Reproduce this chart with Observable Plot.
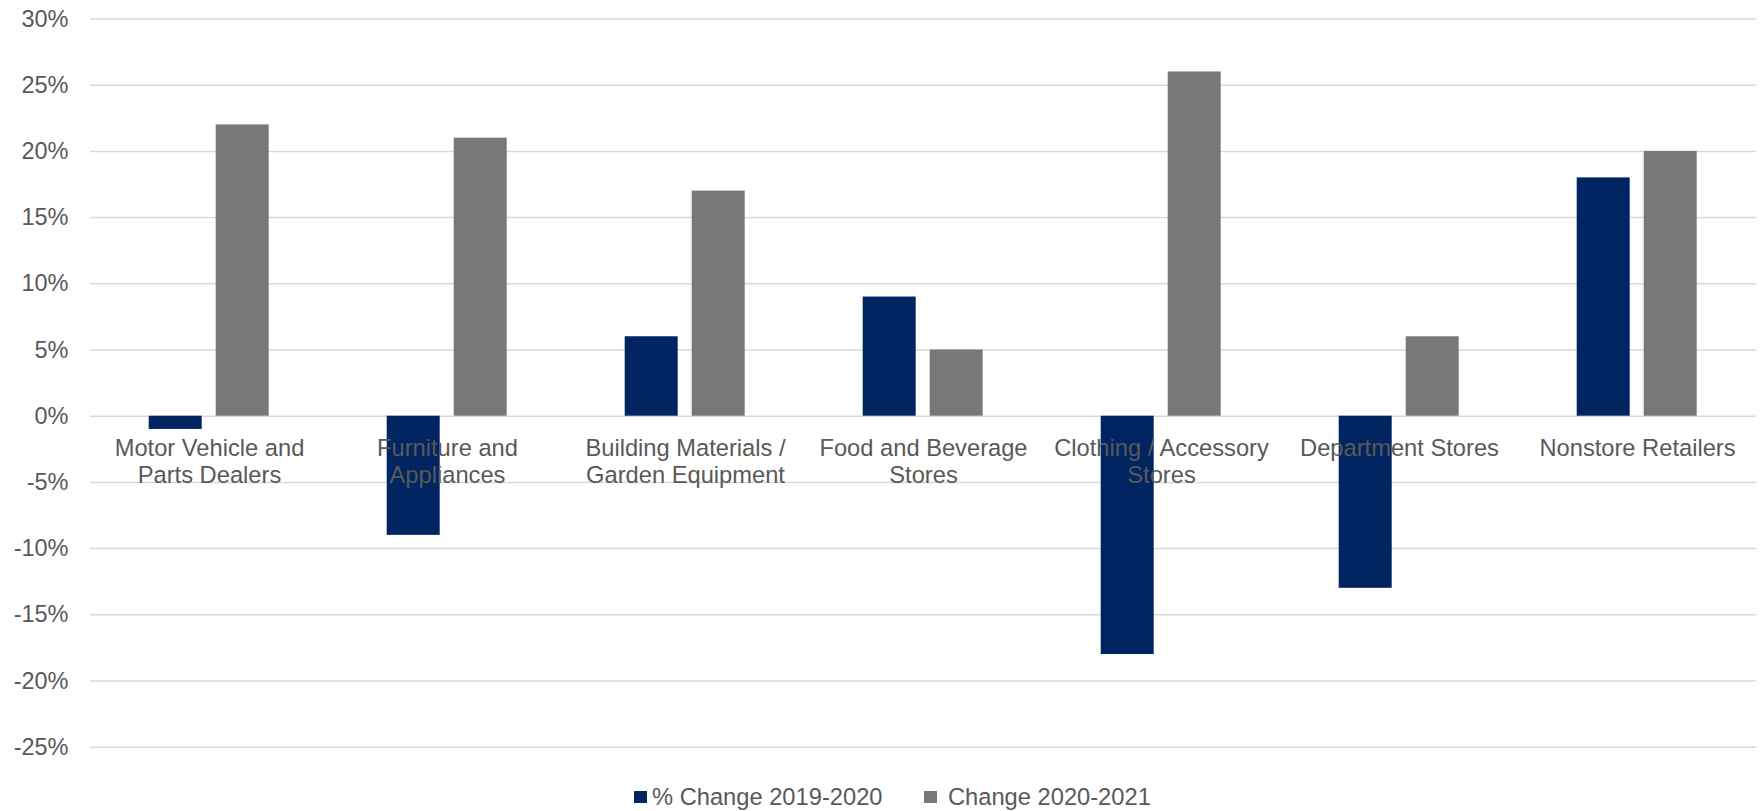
<!DOCTYPE html>
<html>
<head>
<meta charset="utf-8">
<script src="https://cdn.jsdelivr.net/npm/d3@7"></script>
<script src="https://cdn.jsdelivr.net/npm/@observablehq/plot@0.6"></script>
<style>
  html, body { margin: 0; padding: 0; background: #ffffff; overflow: hidden; }
  #chart svg { display: block; }
  #legend { display: flex; align-items: center; height: 26px; line-height: 26px; margin-left: 634px;
            font-family: "Liberation Sans", Arial, sans-serif; font-size: 23.7px; color: #595959; }
  #legend .item { display: flex; align-items: center; }
  #legend .sw { display: inline-block; width: 12.5px; height: 12.5px; }
</style>
</head>
<body>
<div id="chart"></div>
<div id="legend"></div>
<script>
const categories = [
  "Motor Vehicle and Parts Dealers",
  "Furniture and Appliances",
  "Building Materials / Garden Equipment",
  "Food and Beverage Stores",
  "Clothing / Accessory Stores",
  "Department Stores",
  "Nonstore Retailers"
];
const categoryLabels = [
  "Motor Vehicle and\nParts Dealers",
  "Furniture and\nAppliances",
  "Building Materials /\nGarden Equipment",
  "Food and Beverage\nStores",
  "Clothing / Accessory\nStores",
  "Department Stores",
  "Nonstore Retailers"
];
const seriesNames = ["% Change 2019-2020", "Change 2020-2021"];
const change2019to2020 = [-1, -9, 6, 9, -18, -13, 18];
const change2020to2021 = [22, 21, 17, 5, 26, 6, 20];
const yTicks = [-25, -20, -15, -10, -5, 0, 5, 10, 15, 20, 25, 30];
const seriesColors = ["#002561", "#77787a"];

const data = categories.flatMap((c, i) => [
  {category: c, series: seriesNames[0], value: change2019to2020[i]},
  {category: c, series: seriesNames[1], value: change2020to2021[i]}
]);
const labelData = categories.map((c, i) => ({category: c, label: categoryLabels[i]}));

const chart = Plot.plot({
  width: 1762,
  height: 784,
  marginTop: 18.5,
  marginBottom: 37.3,
  marginLeft: 88.3,
  marginRight: 5.3,
  style: {fontFamily: "'Liberation Sans', Arial, sans-serif", fontSize: "23.5px", color: "#595959", background: "#ffffff"},
  fx: {domain: categories, padding: 0, axis: null, label: null},
  x: {domain: seriesNames, paddingInner: 0.206, paddingOuter: 0.855, axis: null},
  y: {domain: [-25, 30], ticks: yTicks, tickFormat: d => d + "%", tickSize: 0, tickPadding: 22, label: null},
  color: {domain: seriesNames, range: seriesColors},
  marks: [
    Plot.ruleY(yTicks, {stroke: "#d9d9d9", strokeWidth: 1.5}),
    Plot.barY(data, {fx: "category", x: "series", y: "value", fill: "series"}),
    Plot.text(labelData, {fx: "category", y: () => 0, text: "label", lineAnchor: "top", dy: 20.5,
      lineHeight: 1.14, fill: "#595959", fontSize: 23.7, textAnchor: "middle"})
  ]
});
document.getElementById("chart").appendChild(chart);

const legend = document.getElementById("legend");
seriesNames.forEach((name, i) => {
  const item = document.createElement("div");
  item.className = "item";
  if (i > 0) item.style.marginLeft = "42px";
  const sw = document.createElement("span");
  sw.className = "sw";
  sw.style.background = seriesColors[i];
  sw.style.marginRight = i === 0 ? "5.5px" : "11px";
  const t = document.createElement("span");
  t.textContent = name;
  item.appendChild(sw);
  item.appendChild(t);
  legend.appendChild(item);
});
</script>
</body>
</html>
